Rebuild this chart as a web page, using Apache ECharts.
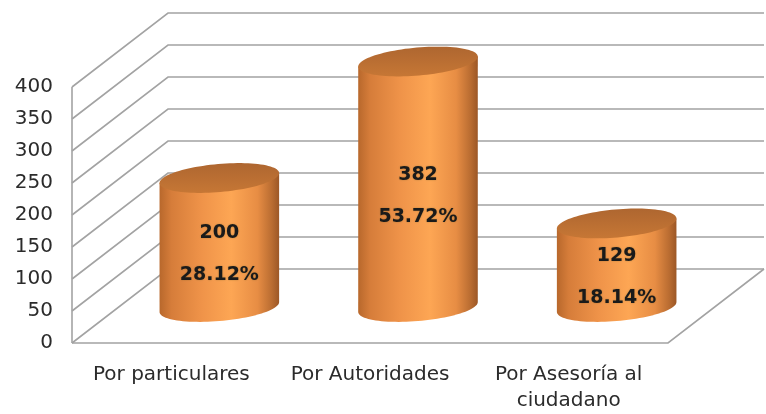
<!DOCTYPE html>
<html><head><meta charset="utf-8">
<script src="https://cdn.jsdelivr.net/npm/echarts@6/dist/echarts.min.js"></script>
<style>html,body{margin:0;padding:0;background:#fff}#c{width:766px;height:414px}</style>
</head><body><div id="c"></div>
<script>
var categories = ['Por particulares', 'Por Autoridades', 'Por Asesoría al\nciudadano'];
var values = [200, 382, 129];
var percents = ['28.12%', '53.72%', '18.14%'];
var ticks = [0, 50, 100, 150, 200, 250, 300, 350, 400];

var DX = 96, DY = -74;   // depth offset of the 3D box
var RX = 60, RY = 14;    // cylinder radii
var TILT = -5 * Math.PI / 180;
var FONT = '"DejaVu Sans", Verdana, sans-serif';
var GRID_COLOR = '#a3a3a3';

var chart = echarts.init(document.getElementById('c'), null, {renderer: 'canvas'});

function ellPt(cx, cy, t) {
  var c = Math.cos(TILT), s = Math.sin(TILT);
  return [cx + RX * Math.cos(t) * c - RY * Math.sin(t) * s,
          cy + RX * Math.cos(t) * s + RY * Math.sin(t) * c];
}

function gridItem(params, api) {
  var cs = params.coordSys;
  var v = api.value(1);
  var y = api.coord([0, v])[1];
  var x0 = cs.x, x1 = cs.x + cs.width;
  var children = [{
    type: 'polyline',
    shape: {points: [[x0, y], [x0 + DX, y + DY], [x1 + DX, y + DY]]},
    style: {stroke: GRID_COLOR, lineWidth: 1.6, fill: null}
  }];
  if (v === 0) {
    children.push({
      type: 'polyline',
      shape: {points: [[x0, y], [x1, y], [x1 + DX, y + DY]]},
      style: {stroke: GRID_COLOR, lineWidth: 1.6, fill: null}
    });
    children.push({
      type: 'line',
      shape: {x1: x0, y1: y, x2: x0, y2: cs.y},
      style: {stroke: GRID_COLOR, lineWidth: 1.6}
    });
  }
  return {type: 'group', children: children};
}

function cylItem(params, api) {
  var i = api.value(0);
  var v = api.value(1);
  var top = api.coord([i, v]);
  var bot = api.coord([i, 0]);
  var cx = top[0] + DX / 2;
  var ty = top[1] + DY / 2;
  var by = bot[1] + DY / 2 + 1;
  var t0 = Math.atan2(-RY * Math.sin(TILT), RX * Math.cos(TILT));
  var N = 48, k, sidePts = [], topPts = [];
  var tr = ellPt(cx, ty, t0);
  sidePts.push(tr);
  for (k = 0; k <= N; k++) sidePts.push(ellPt(cx, by, t0 + Math.PI * k / N));
  sidePts.push(ellPt(cx, ty, t0 + Math.PI));
  for (k = 0; k < 2 * N; k++) topPts.push(ellPt(cx, ty, Math.PI * k / N));
  var side = new echarts.graphic.LinearGradient(0, 0, 1, 0, [
    {offset: 0, color: '#b8682c'},
    {offset: 0.1, color: '#d67d3a'},
    {offset: 0.35, color: '#ef9349'},
    {offset: 0.6, color: '#fda654'},
    {offset: 0.82, color: '#e78d44'},
    {offset: 0.94, color: '#b96c31'},
    {offset: 1, color: '#9c5726'}
  ]);
  var topFill = new echarts.graphic.LinearGradient(0, 0, 0, 1, [
    {offset: 0, color: '#ae6630'},
    {offset: 1, color: '#c67735'}
  ]);
  var mid = (ty + by) / 2 + RY - 2;
  return {
    type: 'group',
    children: [
      {type: 'polygon', shape: {points: sidePts}, style: {fill: side}},
      {type: 'polygon', shape: {points: topPts}, style: {fill: topFill}},
      {
        type: 'text',
        x: cx, y: mid - 21,
        style: {text: String(values[i]), fill: '#1a1a1a', font: 'bold 19px ' + FONT,
          align: 'center', verticalAlign: 'middle',
          textShadowColor: 'rgba(60,70,20,0.35)', textShadowBlur: 2}
      },
      {
        type: 'text',
        x: cx, y: mid + 21,
        style: {text: percents[i], fill: '#1a1a1a', font: 'bold 19px ' + FONT,
          align: 'center', verticalAlign: 'middle',
          textShadowColor: 'rgba(60,70,20,0.35)', textShadowBlur: 2}
      }
    ]
  };
}

chart.setOption({
  animation: false,
  grid: {left: 72, right: 98, top: 87, bottom: 71, containLabel: false},
  xAxis: {
    type: 'category',
    data: categories,
    boundaryGap: true,
    axisLine: {show: false},
    axisTick: {show: false},
    axisLabel: {color: '#2b2b2b', fontFamily: FONT, fontSize: 20, lineHeight: 26, margin: 19, interval: 0}
  },
  yAxis: {
    type: 'value',
    min: 0, max: 400, interval: 50,
    axisLine: {show: false},
    axisTick: {show: false},
    splitLine: {show: false},
    axisLabel: {color: '#2b2b2b', fontFamily: FONT, fontSize: 20, margin: 19}
  },
  series: [
    {
      type: 'custom',
      clip: false,
      silent: true,
      data: ticks.map(function (t) { return [0, t]; }),
      renderItem: gridItem,
      z: 1
    },
    {
      type: 'custom',
      clip: false,
      data: values.map(function (v, i) { return [i, v]; }),
      renderItem: cylItem,
      z: 2
    }
  ]
});
</script>
</body></html>
